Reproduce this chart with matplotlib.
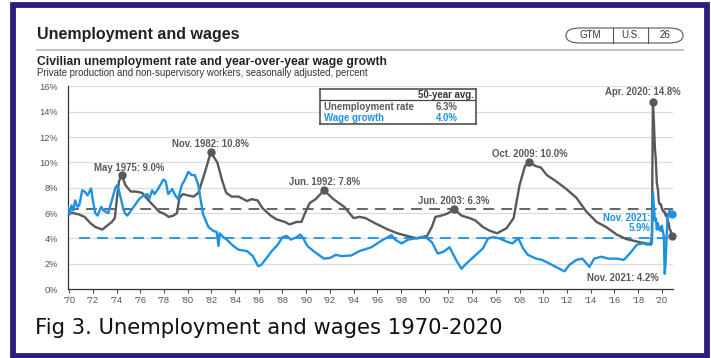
import matplotlib.pyplot as plt
from matplotlib.patches import Rectangle, FancyBboxPatch
from matplotlib.lines import Line2D

plt.rcParams['font.family'] = ['Liberation Sans', 'DejaVu Sans']

# unemployment rate, percent (chart years)
unemp_x = [1969.9, 1970.3, 1970.8, 1971.3, 1971.8, 1972.2, 1972.8, 1973.2, 1973.6, 1973.85,
           1974.05, 1974.2, 1974.45, 1974.75, 1975.2, 1975.6, 1976.15, 1976.7, 1977.2, 1977.6,
           1978.0, 1978.4, 1978.8, 1979.1, 1979.3, 1979.6, 1980.0, 1980.5, 1980.9, 1981.35,
           1981.95, 1982.5, 1982.9, 1983.25, 1983.7, 1984.3, 1985.0, 1985.4, 1985.9, 1986.3,
           1987.0, 1987.5, 1988.2, 1988.6, 1989.2, 1989.6, 1989.9, 1990.3, 1990.8, 1991.5,
           1992.3, 1993.2, 1994.0, 1994.5, 1995.0, 1995.8, 1996.9, 1997.7, 1998.9, 1999.4,
           2000.2, 2000.6, 2000.9, 2001.4, 2001.9, 2002.5, 2003.1, 2003.8, 2004.3, 2004.9,
           2005.5, 2006.1, 2006.9, 2007.5, 2008.0, 2008.45, 2008.8, 2009.4, 2009.8, 2010.3,
           2011.1, 2011.95, 2012.8, 2013.65, 2014.5, 2015.3, 2016.2, 2017.0, 2017.9, 2018.7,
           2019.08, 2019.17,
           2019.25, 2019.33, 2019.42, 2019.5, 2019.58, 2019.67, 2019.75, 2019.83, 2019.92, 2020.0,
           2020.08, 2020.17, 2020.25, 2020.33, 2020.42, 2020.5, 2020.58, 2020.67, 2020.75, 2020.83]
unemp = [6.0, 6.0, 5.9, 5.7, 5.2, 4.9, 4.7, 5.0, 5.3, 5.6,
         7.3, 8.5, 9.0, 8.2, 7.7, 7.7, 7.6, 7.0, 6.5, 6.1,
         5.95, 5.7, 5.8, 6.0, 7.2, 7.5, 7.4, 7.3, 7.6, 8.9,
         10.8, 10.0, 8.6, 7.6, 7.3, 7.3, 6.95, 7.1, 7.0, 6.4,
         5.8, 5.5, 5.3, 5.1, 5.3, 5.3, 6.0, 6.8, 7.1, 7.8,
         7.1, 6.5, 5.6, 5.7, 5.6, 5.2, 4.7, 4.4, 4.1, 4.0,
         4.2, 4.9, 5.7, 5.8, 5.95, 6.3, 5.8, 5.6, 5.4, 4.9,
         4.6, 4.4, 4.8, 5.6, 8.2, 9.7, 10.0, 9.7, 9.6, 9.0,
         8.5, 7.9, 7.2, 6.1, 5.3, 4.9, 4.3, 3.95, 3.75, 3.6,
         3.5, 4.4,
         14.8, 13.3, 11.1, 10.2, 8.4, 7.9, 6.9, 6.7, 6.7, 6.4,
         6.2, 6.1, 6.1, 5.8, 5.9, 5.4, 5.2, 4.7, 4.6, 4.2]

# year-over-year wage growth, percent
wage_x = [1969.9, 1970.05, 1970.2, 1970.35, 1970.5, 1970.7, 1970.85, 1971.1, 1971.3, 1971.55,
          1971.85, 1972.0, 1972.2, 1972.4, 1972.7, 1972.9, 1973.3, 1973.6, 1973.9, 1974.05,
          1974.2, 1974.4, 1974.55, 1974.7, 1974.9, 1975.3, 1975.6, 1975.9, 1976.3, 1976.6,
          1976.75, 1977.0, 1977.2, 1977.5, 1977.95, 1978.15, 1978.35, 1978.7, 1978.95, 1979.2,
          1979.5, 1979.8, 1980.05, 1980.35, 1980.6, 1980.9, 1981.05, 1981.3, 1981.75, 1982.15,
          1982.45, 1982.6, 1982.7, 1983.0, 1983.3, 1983.85, 1984.3, 1985.0, 1985.5, 1985.95,
          1986.2, 1986.7, 1987.1, 1987.6, 1988.0, 1988.35, 1988.7, 1989.2, 1989.5, 1989.75,
          1990.1, 1990.75, 1991.5, 1992.0, 1992.5, 1993.0, 1993.8, 1994.5, 1995.5, 1996.4,
          1997.2, 1997.5, 1998.05, 1998.6, 1999.2, 2000.0, 2000.6, 2001.1, 2001.6, 2002.1,
          2002.7, 2003.1, 2003.5, 2004.2, 2004.9, 2005.35, 2005.8, 2006.3, 2006.9, 2007.4,
          2007.9, 2008.3, 2008.7, 2009.4, 2009.9, 2010.55, 2011.25, 2011.8, 2012.2, 2012.8,
          2013.3, 2013.9, 2014.3, 2014.9, 2015.5, 2016.2, 2016.8, 2017.3, 2017.9, 2018.4,
          2018.8, 2019.08, 2019.17,
          2019.25, 2019.33, 2019.42, 2019.5, 2019.58, 2019.67, 2019.75, 2019.83, 2019.92, 2020.0,
          2020.08, 2020.17, 2020.25, 2020.33, 2020.42, 2020.5, 2020.58, 2020.67, 2020.75, 2020.83]
wage = [6.5, 5.9, 6.6, 6.2, 7.0, 6.5, 6.6, 7.8, 7.7, 7.4,
        7.95, 7.0, 6.0, 5.8, 6.5, 6.2, 6.0, 7.0, 8.0, 8.2,
        7.8, 7.0, 6.4, 6.0, 5.8, 6.3, 6.7, 7.1, 7.4, 7.5,
        7.1, 7.8, 7.5, 7.9, 8.65, 8.5, 7.5, 7.9, 7.4, 7.1,
        8.2, 8.7, 9.25, 9.0, 9.0, 8.2, 7.3, 5.9, 4.9, 4.6,
        4.5, 3.4, 4.4, 4.1, 3.9, 3.4, 3.1, 3.0, 2.6, 1.8,
        1.9, 2.5, 3.0, 3.5, 4.1, 4.2, 3.9, 4.1, 4.3, 4.0,
        3.4, 2.9, 2.4, 2.45, 2.7, 2.6, 2.65, 3.0, 3.3, 3.85,
        4.25, 3.9, 3.6, 3.9, 4.0, 4.15, 3.7, 2.8, 2.95, 3.3,
        2.2, 1.6, 2.0, 2.6, 3.2, 4.0, 4.1, 4.0, 3.75, 3.6,
        4.0, 3.2, 2.7, 2.4, 2.3, 2.0, 1.65, 1.4, 1.9, 2.3,
        2.4, 1.75, 2.4, 2.55, 2.4, 2.4, 2.3, 2.8, 3.5, 3.6,
        3.5, 3.7, 3.6,
        7.7, 6.6, 5.4, 5.6, 4.7, 5.2, 4.7, 4.9, 4.6, 5.0,
        4.6, 4.2, 1.2, 2.2, 4.4, 5.8, 6.0, 6.2, 6.0, 5.9]

unemp_avg = 6.3
wage_avg = 4.0

# labelled unemployment peaks: (x, value, label, text x, text y)
peaks = [
    (1974.45, 9.0, 'May 1975: 9.0%', 1975.05, 9.55),
    (1981.95, 10.8, 'Nov. 1982: 10.8%', 1981.95, 11.45),
    (1991.5, 7.8, 'Jun. 1992: 7.8%', 1991.55, 8.45),
    (2002.5, 6.3, 'Jun. 2003: 6.3%', 2002.45, 6.95),
    (2008.8, 10.0, 'Oct. 2009: 10.0%', 2008.85, 10.65),
    (2019.25, 14.8, 'Apr. 2020: 14.8%', 2018.4, 15.55),
]

years = list(range(1970, 2021, 2))
year_labels = ["'" + str(y)[2:] for y in years]

gray = '#58595b'
blue = '#1d92e0'
navy = '#2b1e7e'
fs = 6.9

fig = plt.figure(figsize=(7.11, 3.58), dpi=100)
fig.patch.set_facecolor('white')

ax = fig.add_axes([0.0956, 0.1927, 0.851, 0.5657])
ax.set_xlim(1969.9, 2020.95)
ax.set_ylim(0, 16)

for v in range(2, 17, 2):
    ax.axhline(v, color='#dcdcdc', lw=0.9, zorder=0)

ax.axhline(unemp_avg, color=gray, lw=1.3, dashes=(6, 4), zorder=1)
ax.plot([1970.8, 2020.95], [wage_avg, wage_avg], color=blue, lw=1.3, dashes=(6, 4), zorder=1)

ax.plot(wage_x, wage, color=blue, lw=1.7, zorder=3)
ax.plot(unemp_x, unemp, color=gray, lw=1.7, zorder=2)

for px, pv, label, tx, ty in peaks:
    ax.plot(px, pv, 'o', color=gray, ms=5, zorder=4)
    ax.text(tx, ty, label, color=gray, fontsize=fs, fontweight='bold',
            ha='center', va='center', clip_on=False)

ax.plot(unemp_x[-1], unemp[-1], 'o', color=gray, ms=5, zorder=4, clip_on=False)
ax.plot(wage_x[-1], wage[-1], 'o', color=blue, ms=5, zorder=5, clip_on=False)
ax.text(2016.75, 0.85, 'Nov. 2021: 4.2%', color=gray, fontsize=fs, fontweight='bold',
        ha='center', va='center')
ax.text(2019.05, 5.2, 'Nov. 2021:\n5.9%', color=blue, fontsize=fs, fontweight='bold',
        ha='right', va='center', linespacing=0.95)

ax.set_yticks(range(0, 17, 2))
ax.set_yticklabels([f'{v}%' for v in range(0, 17, 2)])
ax.set_xticks(years)
ax.set_xticklabels(year_labels)
ax.tick_params(axis='y', length=0, pad=7, labelsize=6.7, labelcolor='#555555')
ax.tick_params(axis='x', length=3, width=0.8, color='#555555', pad=2,
               labelsize=6.7, labelcolor='#555555')
for side in ['top', 'right']:
    ax.spines[side].set_visible(False)
ax.spines['left'].set_color('#333333')
ax.spines['bottom'].set_color('#333333')
ax.spines['left'].set_linewidth(0.9)
ax.spines['bottom'].set_linewidth(0.9)

# averages table
tbl = ax.inset_axes([0.4165, 0.814, 0.258, 0.176])
tbl.set_xlim(0, 1)
tbl.set_ylim(0, 1)
tbl.set_xticks([])
tbl.set_yticks([])
for s in tbl.spines.values():
    s.set_color('#444444')
    s.set_linewidth(1.1)
tbl.set_facecolor('white')
tbl.axhline(0.68, color='#444444', lw=0.9)
tbl.text(0.985, 0.83, '50-year avg.', ha='right', va='center', fontsize=fs,
         fontweight='bold', color='#333333')
tbl.text(0.025, 0.47, 'Unemployment rate', ha='left', va='center', fontsize=fs,
         fontweight='bold', color=gray)
tbl.text(0.81, 0.47, f'{unemp_avg}%', ha='center', va='center', fontsize=fs,
         fontweight='bold', color=gray)
tbl.text(0.025, 0.17, 'Wage growth', ha='left', va='center', fontsize=fs,
         fontweight='bold', color=blue)
tbl.text(0.81, 0.17, f'{wage_avg}%', ha='center', va='center', fontsize=fs,
         fontweight='bold', color=blue)

# page header
fig.text(37 / 711, 1 - 34 / 358, 'Unemployment and wages', fontsize=11.5,
         fontweight='bold', color='#222222', va='center')
fig.add_artist(Line2D([37 / 711, 683 / 711], [1 - 50 / 358, 1 - 50 / 358],
                      color='#bdbdbd', lw=1.3))
fig.add_artist(FancyBboxPatch((566 / 711, 1 - 43 / 358), 117 / 711, 15 / 358,
                              boxstyle='round,pad=0,rounding_size=0.02',
                              transform=fig.transFigure, facecolor='white',
                              edgecolor='#555555', lw=0.8))
for xd in [613, 648]:
    fig.add_artist(Line2D([xd / 711, xd / 711], [1 - 43 / 358, 1 - 28 / 358],
                          color='#555555', lw=0.8))
for xt, t in [(590, 'GTM'), (631, 'U.S.'), (665, '26')]:
    fig.text(xt / 711, 1 - 35.5 / 358, t, fontsize=7, color='#333333',
             ha='center', va='center')

fig.text(37 / 711, 1 - 62 / 358, 'Civilian unemployment rate and year-over-year wage growth',
         fontsize=8.7, fontweight='bold', color='#222222', va='center')
fig.text(37 / 711, 1 - 73 / 358,
         'Private production and non-supervisory workers, seasonally adjusted, percent',
         fontsize=6.9, color='#333333', va='center')

fig.text(35 / 711, 1 - 328 / 358, 'Fig 3. Unemployment and wages 1970-2020',
         family='DejaVu Sans', fontsize=15.2, color='#111111', va='center')

# outer frame
fig.add_artist(Rectangle((13 / 711, 2 / 358), 694 / 711, 351 / 358,
                         transform=fig.transFigure, fill=False,
                         edgecolor=navy, lw=4.2))

fig.savefig('out.png', dpi=100)
